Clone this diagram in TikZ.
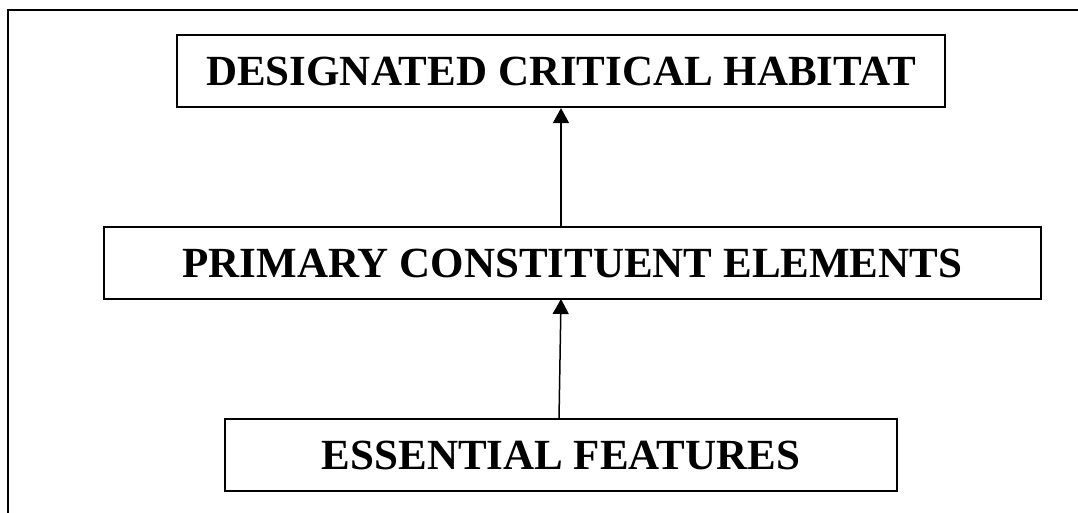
\documentclass[tikz,border=0pt]{standalone}
\usepackage{fontspec}
\setmainfont{Liberation Serif}
\usetikzlibrary{arrows.meta}
\begin{document}
\begin{tikzpicture}[x=1pt,y=-1pt,
  box/.style={draw,line width=2.2pt,inner sep=0pt,font=\fontsize{43}{50}\selectfont\bfseries},
  link/.style={line width=1.5pt,-{Triangle[length=15pt,width=16pt]}}]
\useasboundingbox (0,0) rectangle (1078,513);
\coordinate (fl) at (8,513);
\coordinate (fc) at (8,10);
\coordinate (fr) at (1078,10);
\draw[line width=2.2pt] (fl) -- (fc) -- (fr);
\node[box,minimum width=768pt,minimum height=72pt] (dch) at (561,71) {DESIGNATED CRITICAL HABITAT};
\node[box,minimum width=937pt,minimum height=72pt] (pce) at (572.5,263) {PRIMARY CONSTITUENT ELEMENTS};
\node[box,minimum width=672pt,minimum height=72pt] (ef) at (561,455) {ESSENTIAL FEATURES};
\draw[link] (pce.north -| dch.south) -- (dch.south);
\coordinate (a2s) at (559,419);
\coordinate (a2e) at (561,299);
\draw[link] (a2s) -- (a2e);
\end{tikzpicture}
\end{document}
